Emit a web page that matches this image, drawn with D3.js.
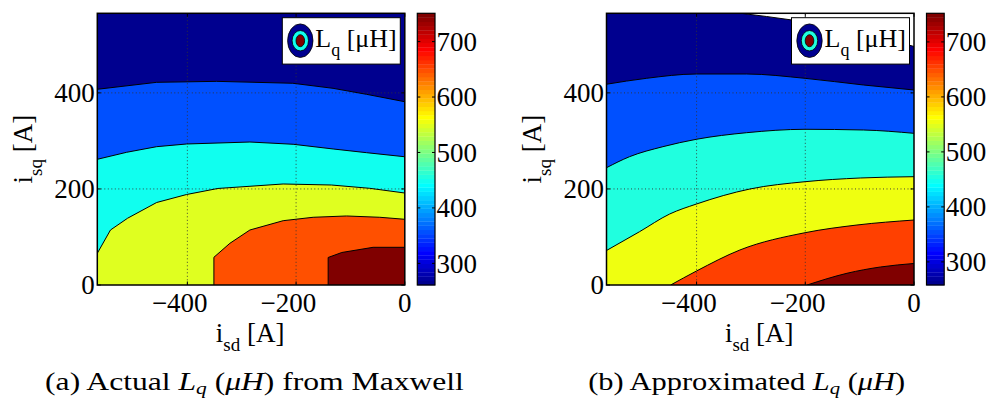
<!DOCTYPE html>
<html>
<head>
<meta charset="utf-8">
<script src="https://cdn.jsdelivr.net/npm/d3@7"></script>
<style>
  body { margin: 0; background: #fff; }
  svg { display: block; }
  text { font-family: "Liberation Serif", "Times New Roman", serif; fill: #000; }
</style>
</head>
<body>
<svg id="fig" width="989" height="401"></svg>
<script>
// Current-plane extents (A) and tick values
const isdExtent = [-565.7, 0];
const isqExtent = [0, 565.7];
const isdTicks = [-400, -200, 0];
const isqTicks = [0, 200, 400];
const colorTicks = [300, 400, 500, 600, 700];

// (a) Maxwell FEA result: iso-inductance boundaries as [isd, isq] points.
// actualBands[0] is the band on the low side of the first boundary,
// actualBands[k + 1] the band on the high side of boundary k (µH).
const actualRange = [261, 751];
const actualBands = [261, 357, 450, 550, 650, 751];
const actualLines = [
  [[-565.7, 407.5], [-456.5, 422], [-346, 424], [-206, 420], [-132, 409.5], [-70.4, 397], [0, 381.6]],
  [[-565.7, 261.7], [-511.7, 276.3], [-456.5, 288], [-401.4, 293.6], [-285, 297.7], [-205.4, 293], [-131.8, 283.2], [-70.4, 275.5], [0, 267]],
  [[-565.7, 66], [-541.5, 114.5], [-510, 139], [-456.5, 171.8], [-401.4, 188.4], [-343.8, 201], [-223.8, 210.3], [-135, 208.2], [-64.4, 201.3], [0, 191.5]],
  [[-351.2, 0], [-351.2, 57.7], [-321.8, 86.8], [-285, 114.5], [-223.8, 133.9], [-168.6, 141], [-107.2, 143.7], [-46, 141], [0, 136.8]],
  [[-141, 0], [-141, 57.3], [-115.8, 67.7], [-58.3, 78.5], [0, 78.5]]
];

// (b) Approximation: the first boundary encloses an unfilled (below-range) corner.
const approxRange = [258, 752];
const approxBands = [null, 258, 357, 456, 555, 654, 752];
const approxLines = [
  [[-318.5, 565.7], [-224.3, 551.7], [-117.2, 531], [0, 496.6]],
  [[-565.7, 418], [-492.5, 430.3], [-400.2, 439.3], [-307.9, 439.3], [-200.3, 430.3], [-92.7, 416.4], [0, 406]],
  [[-565.7, 244.2], [-523.4, 267.1], [-461.9, 288], [-400.2, 303.4], [-307.9, 317.1], [-200.3, 324.2], [-92.7, 322.7], [0, 315.8]],
  [[-565.7, 71.8], [-504.9, 111], [-449.5, 147.8], [-400.2, 168.6], [-301.8, 199.9], [-200.3, 215.1], [-98.8, 222.8], [0, 225.5]],
  [[-447.7, 0], [-400.2, 29.1], [-320.3, 72.9], [-200.3, 108.9], [-104.9, 124.9], [0, 135.3]],
  [[-196.6, 0], [-123.3, 24.4], [-61.8, 37.5], [0, 44.8]]
];

// MATLAB-style 64-entry jet colormap
function jetIndex(i) {
  let r, g, b;
  if (i <= 24) r = 0; else if (i <= 40) r = (i - 24) / 16; else if (i <= 56) r = 1; else r = 1 - (i - 56) / 16;
  if (i <= 8) g = 0; else if (i <= 24) g = (i - 8) / 16; else if (i <= 40) g = 1; else if (i <= 56) g = 1 - (i - 40) / 16; else g = 0;
  if (i <= 8) b = 0.5 + i / 16; else if (i <= 24) b = 1; else if (i <= 40) b = 1 - (i - 24) / 16; else b = 0;
  return d3.rgb(Math.round(r * 255), Math.round(g * 255), Math.round(b * 255)).formatHex();
}
function jet(v, range) {
  let i = Math.floor((v - range[0]) / (range[1] - range[0]) * 64) + 1;
  i = Math.max(1, Math.min(64, i));
  return jetIndex(i);
}

const svg = d3.select("#fig");
const FS = 27;

function drawPanel(opt) {
  const { ox, lines, bands, range, curve, id } = opt;
  const x0 = 97.3 + ox, x1 = 404.8 + ox, yTop = 13.3, yBot = 285;
  const x = d3.scaleLinear().domain(isdExtent).range([x0, x1]);
  const y = d3.scaleLinear().domain(isqExtent).range([yBot, yTop]);
  const g = svg.append("g");

  g.append("clipPath").attr("id", "clip" + id)
    .append("rect").attr("x", x0).attr("y", yTop).attr("width", x1 - x0).attr("height", yBot - yTop);

  const plot = g.append("g").attr("clip-path", `url(#clip${id})`);
  plot.append("rect")
    .attr("x", x0).attr("y", yTop).attr("width", x1 - x0).attr("height", yBot - yTop)
    .attr("fill", bands[0] == null ? "#fff" : jet(bands[0], range));

  const line = d3.line().x(d => x(d[0])).y(d => y(d[1])).curve(curve);

  // close each boundary along the frame, walking round to the high-value side
  const W = x1 - x0, H = yBot - yTop, P = 2 * (W + H);
  const perim = ([px, py]) => {
    if (Math.abs(px - x1) < 0.5) return py - yTop;
    if (Math.abs(py - yBot) < 0.5) return H + (x1 - px);
    if (Math.abs(px - x0) < 0.5) return H + W + (yBot - py);
    return 2 * H + W + (px - x0);
  };
  const corners = [[H, [x1, yBot]], [H + W, [x0, yBot]], [2 * H + W, [x0, yTop]], [P, [x1, yTop]]];
  function closure(pts) {
    const S = [x(pts[0][0]), y(pts[0][1])];
    const E = [x(pts[pts.length - 1][0]), y(pts[pts.length - 1][1])];
    const tE = perim(E);
    let tS = perim(S);
    if (tS <= tE) tS += P;
    const out = [];
    for (const rep of [0, P]) for (const [tc, c] of corners) {
      const tt = tc + rep;
      if (tt > tE && tt < tS) out.push(c);
    }
    return out.map(c => `L${c[0]},${c[1]}`).join("") + "Z";
  }

  lines.forEach((pts, k) => {
    plot.append("path").attr("d", line(pts) + closure(pts)).attr("fill", jet(bands[k + 1], range));
  });

  // dotted grid
  plot.selectAll(".gx").data(isdTicks.filter(t => t > isdExtent[0] && t < isdExtent[1])).enter()
    .append("line").attr("x1", d => x(d)).attr("x2", d => x(d)).attr("y1", yTop).attr("y2", yBot)
    .attr("stroke", "#333").attr("stroke-width", 0.9).attr("stroke-dasharray", "1,2.5");
  plot.selectAll(".gy").data(isqTicks.filter(t => t > isqExtent[0] && t < isqExtent[1])).enter()
    .append("line").attr("y1", d => y(d)).attr("y2", d => y(d)).attr("x1", x0).attr("x2", x1)
    .attr("stroke", "#333").attr("stroke-width", 0.9).attr("stroke-dasharray", "1,2.5");

  // contour boundaries
  lines.forEach(pts => {
    plot.append("path").attr("d", line(pts)).attr("fill", "none").attr("stroke", "#000").attr("stroke-width", 1);
  });

  // inward ticks on all four sides
  const tl = 3.5;
  isdTicks.forEach(t => {
    g.append("line").attr("x1", x(t)).attr("x2", x(t)).attr("y1", yBot).attr("y2", yBot - tl).attr("stroke", "#000");
    g.append("line").attr("x1", x(t)).attr("x2", x(t)).attr("y1", yTop).attr("y2", yTop + tl).attr("stroke", "#000");
  });
  isqTicks.forEach(t => {
    g.append("line").attr("x1", x0).attr("x2", x0 + tl).attr("y1", y(t)).attr("y2", y(t)).attr("stroke", "#000");
    g.append("line").attr("x1", x1).attr("x2", x1 - tl).attr("y1", y(t)).attr("y2", y(t)).attr("stroke", "#000");
  });

  g.append("rect").attr("x", x0).attr("y", yTop).attr("width", W).attr("height", H)
    .attr("fill", "none").attr("stroke", "#000").attr("stroke-width", 1.5);

  // tick labels: digits centred on the tick, minus sign hung to the left
  const tickY = 312;
  isdTicks.forEach(t => {
    const txt = g.append("text").attr("x", x(t)).attr("y", tickY).attr("text-anchor", "middle")
      .attr("font-size", FS).text(Math.abs(t));
    if (t < 0) {
      const w = txt.node().getComputedTextLength();
      g.append("text").attr("x", x(t) - w / 2).attr("y", tickY).attr("text-anchor", "end")
        .attr("font-size", FS).text("\u2212");
    }
  });
  isqTicks.forEach(t => {
    g.append("text").attr("x", x0 - 2.5).attr("y", y(t)).attr("dy", "0.34em").attr("text-anchor", "end")
      .attr("font-size", FS).text(t);
  });

  // axis titles
  const xl = g.append("text").attr("x", (x0 + x1) / 2 - 1).attr("y", 342).attr("text-anchor", "middle").attr("font-size", FS);
  xl.append("tspan").text("i");
  xl.append("tspan").attr("font-size", 19).attr("dy", 9).text("sd");
  xl.append("tspan").attr("dy", -9).text(" [A]");

  const yl = g.append("text").attr("transform", `translate(${31.7 + ox},${(yTop + yBot) / 2}) rotate(-90)`)
    .attr("text-anchor", "middle").attr("font-size", FS);
  yl.append("tspan").text("i");
  yl.append("tspan").attr("font-size", 19).attr("dy", 10).text("sq");
  yl.append("tspan").attr("dy", -10).text(" [A]");

  // legend
  const lw = 118, lh = 46.4, lx = x1 - 4.5 - lw, ly = yTop + 4.4;
  g.append("rect").attr("x", lx).attr("y", ly).attr("width", lw).attr("height", lh)
    .attr("fill", "#fff").attr("stroke", "#000").attr("stroke-width", 1);
  const cx = lx + 18, cy = ly + 23;
  [[12.7, 16.8, jet(range[0], range)], [8.2, 10.2, jet(bands[bands.length - 4], range)], [4.3, 6, jet(range[1], range)]]
    .forEach(([rx, ry, c]) => {
      g.append("ellipse").attr("cx", cx).attr("cy", cy).attr("rx", rx).attr("ry", ry)
        .attr("fill", c).attr("stroke", "#000").attr("stroke-width", 0.8);
    });
  const lt = g.append("text").attr("x", lx + 33).attr("y", ly + 29).attr("font-size", 26);
  lt.append("tspan").text("L");
  lt.append("tspan").attr("font-size", 18).attr("dy", 9).text("q");
  lt.append("tspan").attr("dy", -9).text(" [\u03bcH]");

  // colour bar
  const cbx = 417.3 + ox, cbw = 17.7;
  const c = d3.scaleLinear().domain(range).range([yBot, yTop]);
  const step = (range[1] - range[0]) / 64;
  const cells = d3.range(64);
  g.selectAll(".cb" + id).data(cells).enter().append("rect")
    .attr("x", cbx).attr("width", cbw)
    .attr("y", j => c(range[0] + (j + 1) * step))
    .attr("height", j => c(range[0] + j * step) - c(range[0] + (j + 1) * step) + 0.3)
    .attr("fill", j => jetIndex(j + 1));
  colorTicks.forEach(t => {
    g.append("line").attr("x1", cbx + cbw).attr("x2", cbx + cbw - 3).attr("y1", c(t)).attr("y2", c(t)).attr("stroke", "#000");
    g.append("line").attr("x1", cbx).attr("x2", cbx + 3).attr("y1", c(t)).attr("y2", c(t)).attr("stroke", "#000");
    g.append("text").attr("x", cbx + cbw + 1.5).attr("y", c(t)).attr("dy", "0.34em").attr("font-size", FS).text(t);
  });
  g.append("rect").attr("x", cbx).attr("y", yTop).attr("width", cbw).attr("height", H)
    .attr("fill", "none").attr("stroke", "#000").attr("stroke-width", 1.2);

  // sub-caption, widened to the set width of the figure caption font
  const cap = g.append("text").attr("font-size", 25).attr("text-anchor", "middle");
  cap.append("tspan").text(opt.capLead + " ");
  cap.append("tspan").attr("font-style", "italic").text("L");
  cap.append("tspan").attr("font-style", "italic").attr("font-size", 17).attr("dy", 4).text("q");
  cap.append("tspan").attr("dy", -4).text(" (");
  cap.append("tspan").attr("font-style", "italic").text("\u03bcH");
  cap.append("tspan").text(")" + opt.capTail);
  const natural = cap.node().getBBox().width;
  cap.attr("transform", `translate(${opt.capX},390) scale(${opt.capW / natural},1)`);
}

drawPanel({ id: "a", ox: 0, lines: actualLines, bands: actualBands, range: actualRange,
  curve: d3.curveLinear, capX: 254.5, capW: 419, capLead: "(a) Actual", capTail: " from Maxwell" });
drawPanel({ id: "b", ox: 509.2, lines: approxLines, bands: approxBands, range: approxRange,
  curve: d3.curveMonotoneX, capX: 746.7, capW: 317, capLead: "(b) Approximated", capTail: "" });
</script>
</body>
</html>
